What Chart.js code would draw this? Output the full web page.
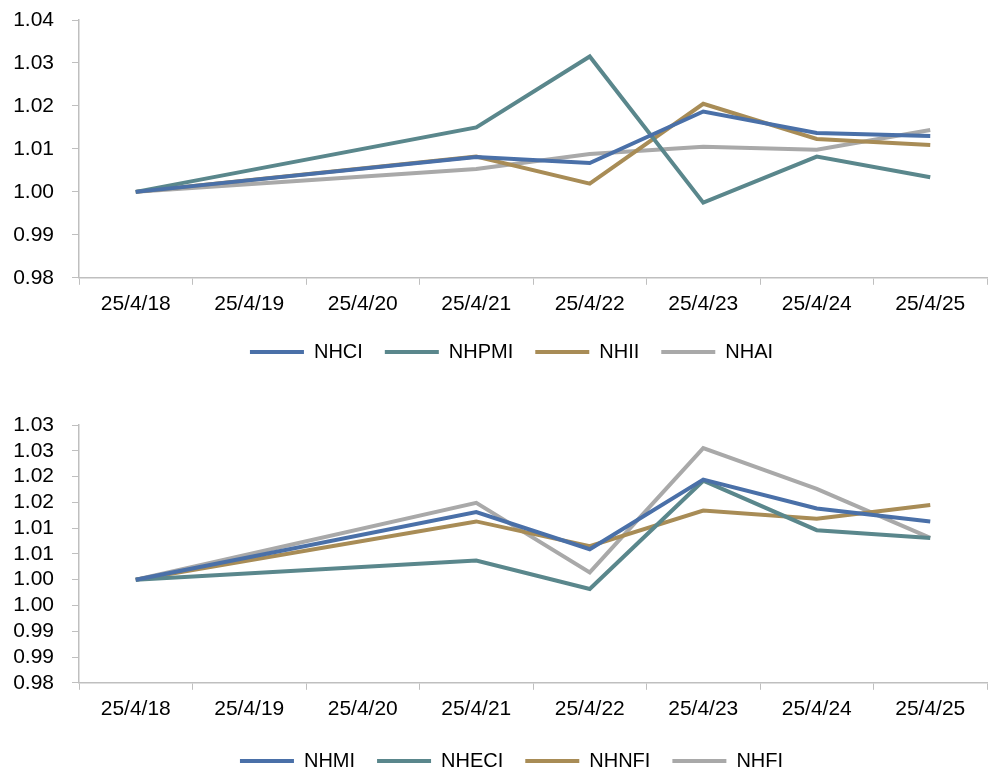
<!DOCTYPE html>
<html>
<head>
<meta charset="utf-8">
<script src="https://cdn.jsdelivr.net/npm/chart.js@4/dist/chart.umd.min.js"></script>
<style>
  html, body { margin: 0; padding: 0; background: #fff; overflow: hidden; }
  .box { position: absolute; left: 0; width: 992px; }
  #top { top: 0; height: 372px; }
  #bottom { top: 400px; height: 381px; }
</style>
</head>
<body>
<div class="box" id="top"><canvas id="chartTop" width="992" height="372"></canvas></div>
<div class="box" id="bottom"><canvas id="chartBottom" width="992" height="381"></canvas></div>
<script>
// dates (19 and 20 are weekend, no data -> line spans the gap)
const dates = ['25/4/18', '25/4/19', '25/4/20', '25/4/21', '25/4/22', '25/4/23', '25/4/24', '25/4/25'];

// top chart
const nhci  = [1.0000, null, null, 1.0081, 1.0067, 1.0187, 1.0137, 1.0130];
const nhpmi = [1.0000, null, null, 1.0150, 1.0315, 0.9975, 1.0082, 1.0034];
const nhii  = [1.0000, null, null, 1.0082, 1.0019, 1.0205, 1.0123, 1.0109];
const nhai  = [1.0000, null, null, 1.0053, 1.0088, 1.0105, 1.0098, 1.0144];
const topTickValues = [0.98, 0.99, 1.00, 1.01, 1.02, 1.03, 1.04];
const topTickLabels = ['0.98', '0.99', '1.00', '1.01', '1.02', '1.03', '1.04'];

// bottom chart
const nhmi  = [1.0000, null, null, 1.0131, 1.0059, 1.0194, 1.0138, 1.0113];
const nheci = [1.0000, null, null, 1.0037, 0.9982, 1.0192, 1.0096, 1.0081];
const nhnfi = [1.0000, null, null, 1.0113, 1.0065, 1.0134, 1.0118, 1.0145];
const nhfi  = [1.0000, null, null, 1.0149, 1.0014, 1.0255, 1.0176, 1.0081];
const bottomTickValues = [0.98, 0.985, 0.99, 0.995, 1.00, 1.005, 1.01, 1.015, 1.02, 1.025, 1.03];
const bottomTickLabels = ['0.98', '0.99', '0.99', '1.00', '1.00', '1.01', '1.01', '1.02', '1.02', '1.03', '1.03'];

const BLUE = '#4a70a8';
const TEAL = '#5a878c';
const GOLD = '#a88c56';
const GRAY = '#a9a9a9';
const AXIS = '#bfbfbf';

Chart.defaults.font.family = '"Liberation Sans", Arial, sans-serif';
Chart.defaults.font.size = 21;
Chart.defaults.color = '#000';

// legend sits a bit right of the canvas centre in the original
const legendShift = {
    id: 'legendShift',
    afterLayout(chart) {
        chart.legend.left += 18;
        chart.legend.right += 18;
    }
};

function ds(label, data, color) {
    return {
        label: label,
        data: data,
        borderColor: color,
        backgroundColor: color,
        borderWidth: 4,
        pointRadius: 0,
        tension: 0,
        spanGaps: true
    };
}

function makeChart(canvasId, sets, tickValues, tickLabels, padTop, axisTrim) {
    const min = tickValues[0];
    const max = tickValues[tickValues.length - 1];
    return new Chart(document.getElementById(canvasId), {
        type: 'line',
        data: { labels: dates, datasets: sets },
        plugins: [legendShift],
        options: {
            responsive: false,
            animation: false,
            layout: { padding: { top: padTop, right: 5, left: 0, bottom: 0 } },
            plugins: {
                tooltip: { enabled: false },
                legend: {
                    position: 'bottom',
                    labels: {
                        boxWidth: 54,
                        boxHeight: 4,
                        padding: 22,
                        font: { size: 20 },
                        generateLabels: chart => {
                            const items = Chart.defaults.plugins.legend.labels.generateLabels(chart);
                            items.forEach(it => { it.lineWidth = 0; });
                            return items;
                        }
                    }
                }
            },
            scales: {
                x: {
                    offset: true,
                    afterFit: scale => { scale.height -= axisTrim; },
                    grid: { drawOnChartArea: false, drawTicks: true, tickLength: 7, color: AXIS, offset: true },
                    border: { color: AXIS, width: 1.5 },
                    ticks: { padding: 7, maxRotation: 0, autoSkip: false }
                },
                y: {
                    min: min,
                    max: max,
                    afterBuildTicks: scale => {
                        scale.ticks = tickValues.map(v => ({ value: v }));
                    },
                    afterFit: scale => {
                        scale.width = 79;
                        scale.paddingTop = 0;
                        scale.paddingBottom = 0;
                    },
                    grid: { drawOnChartArea: false, drawTicks: true, tickLength: 7, color: AXIS },
                    border: { color: AXIS, width: 1.5 },
                    ticks: {
                        padding: 18,
                        autoSkip: false,
                        callback: (value, index) => tickLabels[index]
                    }
                }
            }
        }
    });
}

makeChart('chartTop', [
    ds('NHCI', nhci, BLUE),
    ds('NHPMI', nhpmi, TEAL),
    ds('NHII', nhii, GOLD),
    ds('NHAI', nhai, GRAY)
], topTickValues, topTickLabels, 20, 4);

makeChart('chartBottom', [
    ds('NHMI', nhmi, BLUE),
    ds('NHECI', nheci, TEAL),
    ds('NHNFI', nhnfi, GOLD),
    ds('NHFI', nhfi, GRAY)
], bottomTickValues, bottomTickLabels, 25, 0);
</script>
</body>
</html>
